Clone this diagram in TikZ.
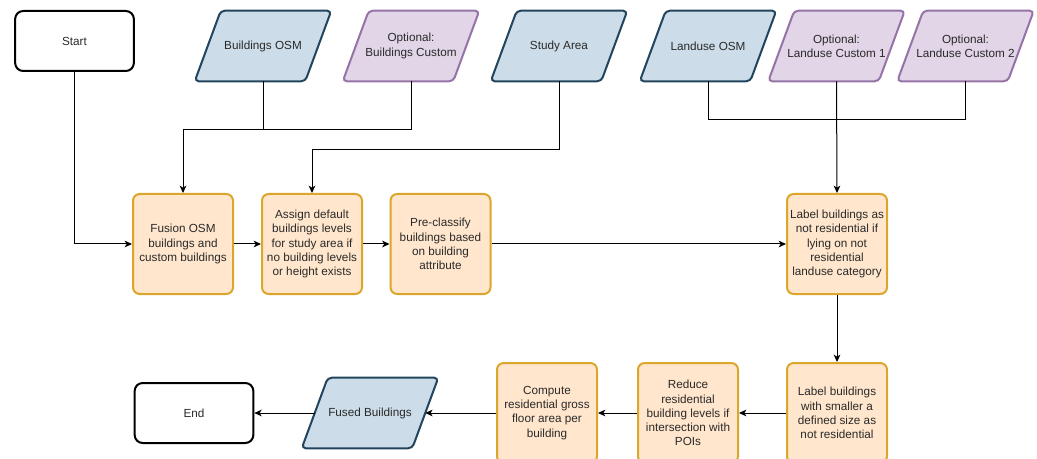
\documentclass[tikz,border=0pt]{standalone}
\usepackage{fontspec}
\setmainfont{Liberation Sans}
\usetikzlibrary{arrows.meta,backgrounds,calc}

\definecolor{ioblue}{HTML}{CCDCE8}
\definecolor{iobluedraw}{HTML}{23445D}
\definecolor{iopurple}{HTML}{E1D5E7}
\definecolor{iopurpledraw}{HTML}{9673A6}
\definecolor{stepfill}{HTML}{FFE6CC}
\definecolor{stepdraw}{HTML}{DBA62C}
\definecolor{txt}{HTML}{2A2A2A}

% parallelogram outline around a data node (slanted edges pass through west/east)
\newcommand\ioframe[2]{%
  \path[#2, line width=1.5pt, rounded corners=3pt]
    ($(#1.north west)+(13,0)$) -- ($(#1.north east)+(13,0)$) --
    ($(#1.south east)+(-13,0)$) -- ($(#1.south west)+(-13,0)$) -- cycle;}

\begin{document}
\begin{tikzpicture}[
  x=0.75pt, y=-0.75pt,
  every node/.style={font=\fontsize{8.8pt}{10.6pt}\selectfont, text=txt, align=center},
  terminal/.style={draw=black, line width=1.5pt, rounded corners=6pt, fill=white,
                   minimum width=89pt, minimum height=45pt, inner sep=0pt},
  process/.style={draw=stepdraw, fill=stepfill, line width=1.5pt, rounded corners=5pt,
                  minimum width=75pt, minimum height=75pt, inner sep=0pt},
  io/.style={minimum width=82.5pt, minimum height=52.5pt, inner sep=0pt},
  bluedata/.style={fill=ioblue, draw=iobluedraw},
  purpledata/.style={fill=iopurple, draw=iopurpledraw},
  flow/.style={draw=black, line width=0.75pt, -{Stealth[length=5.5pt,width=5pt,inset=1.5pt]}},
  link/.style={draw=black, line width=0.75pt},
]
\useasboundingbox (0,0) rectangle (1037,459);

% terminals
\node[terminal] (start) at (74.5,41) {Start};
\node[terminal] (end) at (194,413) {End};

% input data
\node[io] (bosm)   at (263,46)   {Buildings OSM};
\node[io] (bcust)  at (411,46)   {Optional:\\Buildings Custom};
\node[io] (study)  at (559,46)   {Study Area};
\node[io] (losm)   at (708,46)   {Landuse OSM};
\node[io] (lcust1) at (836.5,46) {Optional:\\Landuse Custom 1};
\node[io] (lcust2) at (965.5,46) {Optional:\\Landuse Custom 2};
\node[io] (fused)  at (370,413)  {Fused Buildings};

% processing steps
\node[process] (fusion)  at (183,244)   {Fusion OSM\\buildings and\\custom buildings};
\node[process] (assign)  at (312,244)   {Assign default\\buildings levels\\for study area if\\no building levels\\or height exists};
\node[process] (precls)  at (440.5,244) {Pre-classify\\buildings based\\on building\\attribute};
\node[process] (landnr)  at (837,244)   {Label buildings as\\not residential if\\lying on not\\residential\\landuse category};
\node[process] (smallnr) at (837,413)   {Label buildings\\with smaller a\\defined size as\\not residential};
\node[process] (reduce)  at (688,413)   {Reduce\\residential\\building levels if\\intersection with\\POIs};
\node[process] (gfa)     at (547,413)   {Compute\\residential gross\\floor area per\\building};

\begin{pgfonlayer}{background}
  \ioframe{bosm}{bluedata}
  \ioframe{bcust}{purpledata}
  \ioframe{study}{bluedata}
  \ioframe{losm}{bluedata}
  \ioframe{lcust1}{purpledata}
  \ioframe{lcust2}{purpledata}
  \ioframe{fused}{bluedata}
\end{pgfonlayer}

% junction points of the merging input lines
\coordinate (bj)  at ($(fusion.north |- 0,130)$);
\coordinate (sj)  at ($(assign.north |- 0,150)$);
\coordinate (lj)  at ($(lcust2.south |- 0,120)$);

% connectors
\draw[flow] (start.south) |- (fusion.west);
\draw[link] (bosm.south) -- (bosm.south |- bj);
\draw[flow] (bcust.south) |- (bj) -- (fusion.north);
\draw[flow] (study.south) |- (sj) -- (assign.north);
\draw[link] (losm.south) |- (lj) -- (lcust2.south);
\draw[flow] (lcust1.south) -- (landnr.north);

\draw[flow] (fusion) -- (assign);
\draw[flow] (assign) -- (precls);
\draw[flow] (precls) -- (landnr);
\draw[flow] (landnr) -- (smallnr);
\draw[flow] (smallnr) -- (reduce);
\draw[flow] (reduce) -- (gfa);
\draw[flow] (gfa) -- (fused.east);
\draw[flow] (fused.west) -- (end.east);
\end{tikzpicture}
\end{document}
